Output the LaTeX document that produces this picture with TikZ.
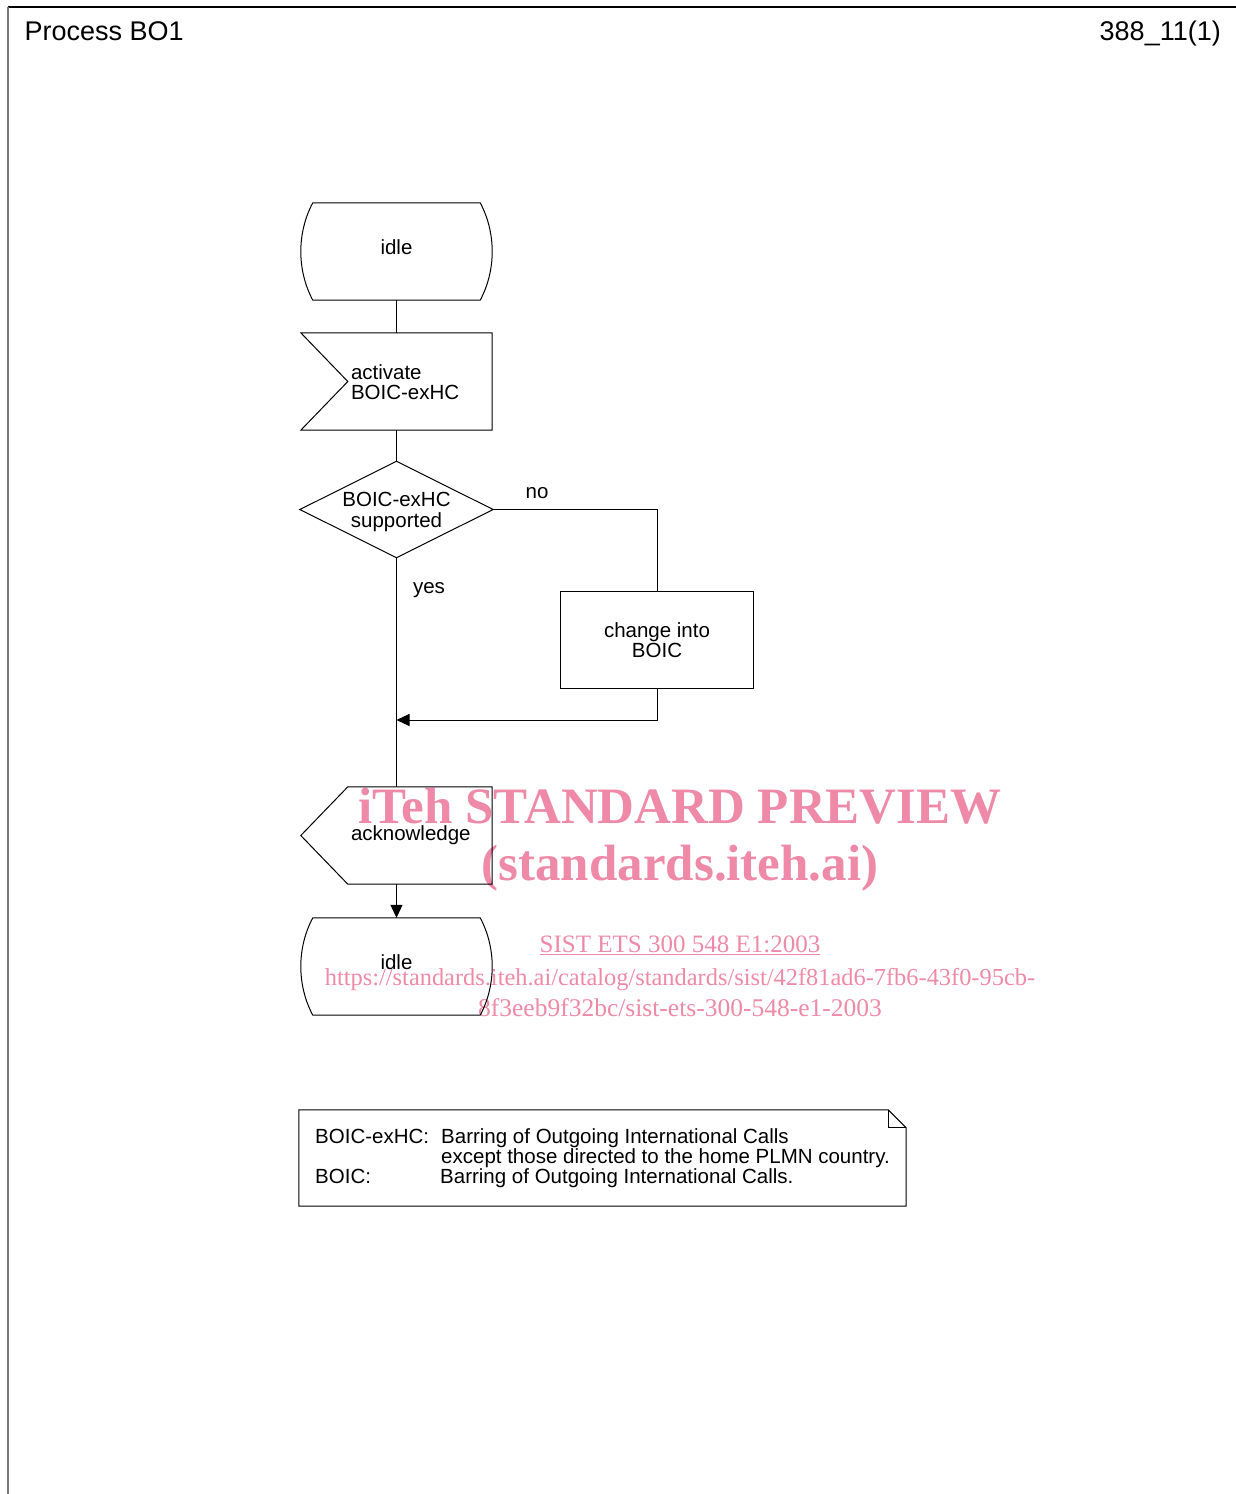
\documentclass[tikz,border=0pt]{standalone}
\usepackage{fontspec}
\setmainfont{Liberation Sans}
\newfontfamily\wmserif{Liberation Serif}
\usetikzlibrary{calc,arrows.meta}
\definecolor{wmpink}{RGB}{238,137,168}
\definecolor{framegray}{RGB}{120,120,120}
\newcommand\dfont{\fontsize{20.5}{20}\selectfont}
\newcommand\stateoutline[1]{%
  \draw[outl] ($(#1.north west)+(12,0)$) -- ($(#1.north east)+(-12,0)$)
    .. controls ($(#1.north east)+(4,30)$) and ($(#1.south east)+(4,-30)$) .. ($(#1.south east)+(-12,0)$)
    -- ($(#1.south west)+(12,0)$)
    .. controls ($(#1.south west)+(-4,-30)$) and ($(#1.north west)+(-4,30)$) .. cycle;}
\newcommand\inputoutline[1]{%
  \draw[outl] (#1.north west) -- (#1.north east) -- (#1.south east) -- (#1.south west) -- ($(#1.west)+(47,0)$) -- cycle;}
\newcommand\outputoutline[1]{%
  \draw[outl] ($(#1.north west)+(47,0)$) -- (#1.north east) -- (#1.south east) -- ($(#1.south west)+(47,0)$) -- (#1.west) -- cycle;}
\newcommand\decoutline[1]{%
  \draw[outl] (#1.north) -- (#1.east) -- (#1.south) -- (#1.west) -- cycle;}
\newcommand\rectoutline[1]{%
  \draw[outl] (#1.north west) rectangle (#1.south east);}
\newcommand\noteoutline[1]{%
  \draw[outl] ($(#1.north east)+(-18,0)$) -- (#1.north west) -- (#1.south west) -- (#1.south east) -- ($(#1.north east)+(0,18)$) -- cycle;
  \draw[outl] ($(#1.north east)+(-18,0)$) |- ($(#1.north east)+(0,18)$);}
\begin{document}
\begin{tikzpicture}[x=1pt,y=-1pt,
  every node/.style={inner sep=0pt},
  shapebox/.style={draw=none, inner sep=0pt, font=\dfont, align=center},
  statebox/.style={shapebox, minimum width=191pt, minimum height=97pt, text height=14.6pt, text depth=8pt},
  outl/.style={line width=1pt, line join=miter},
  conn/.style={line width=1pt},
  arr/.style={conn, -{Triangle[length=13pt,width=12pt]}},
  lbl/.style={font=\dfont},
  wmbig/.style={text=wmpink, font=\wmserif\bfseries\fontsize{51}{55}\selectfont, anchor=base},
  wmsmall/.style={text=wmpink, font=\wmserif\fontsize{24.4}{28}\selectfont, anchor=base},
  hdr/.style={font=\fontsize{27}{30}\selectfont}]
\useasboundingbox (0,0) rectangle (1236,1494);
% frame
\draw[line width=1.2pt] (8,7) -- (1236,7);
\draw[framegray, line width=2pt] (8,7) -- (8,1494);
\node[hdr, anchor=base west] (title) at (24.5,40) {Process BO1};
\node[hdr, anchor=base east] (figno) at (1221,40) {388\_11(1)};
% watermark
\node[wmbig] (wm1) at (680,823) {iTeh STANDARD PREVIEW};
\node[wmbig] (wm2) at (680,880) {(standards.iteh.ai)};
\node[wmsmall, font=\wmserif\fontsize{25}{28}\selectfont] (wm3) at (680,952) {\underline{SIST ETS 300 548 E1:2003}};
\node[wmsmall] (wm4) at (680,985) {https://standards.iteh.ai/catalog/standards/sist/42f81ad6-7fb6-43f0-95cb-};
\node[wmsmall, font=\wmserif\fontsize{25.5}{28}\selectfont] (wm5) at (680,1016) {8f3eeb9f32bc/sist-ets-300-548-e1-2003};
% nodes
\node[statebox] (idle1) at (396.5,251.5) {idle};
\node[shapebox, minimum width=191pt, minimum height=97pt,
  label={[anchor=west, xshift=50pt, yshift=-1pt, align=left, font=\dfont, inner sep=0pt]west:{activate\\BOIC-exHC}}] (act) at (396.5,381.5) {};
\node[shapebox, minimum width=193pt, minimum height=96pt] (dec) at (396.5,509.5) {\rule{0pt}{19pt}BOIC-exHC\\[1.5pt]supported};
\node[shapebox, minimum width=192pt, minimum height=96pt] (chg) at (657,640) {change into\\BOIC};
\node[shapebox, minimum width=191pt, minimum height=97pt,
  label={[anchor=west, xshift=50pt, font=\dfont, inner sep=0pt]west:{acknowledge}}] (ack) at (396.5,835.5) {};
\node[statebox] (idle2) at (396.5,966.5) {idle};
\node[shapebox, minimum width=607pt, minimum height=96pt, align=left] (note) at (602.5,1158)
  {\makebox[126pt][l]{BOIC-exHC:}Barring of Outgoing International Calls\\
   \hspace*{126pt}except those directed to the home PLMN country.\\
   \makebox[125pt][l]{BOIC:}Barring of Outgoing International Calls.\hspace*{3pt}};
% outlines
\stateoutline{idle1}
\inputoutline{act}
\decoutline{dec}
\rectoutline{chg}
\outputoutline{ack}
\stateoutline{idle2}
\noteoutline{note}
% connectors
\coordinate (merge) at (396.5,720);
\draw[conn] (idle1.south) -- (act.north);
\draw[conn] (act.south) -- (dec.north);
\draw[conn] (dec.east) -| (chg.north);
\draw[arr] (chg.south) |- (merge);
\draw[conn] (dec.south) -- (ack.north);
\draw[arr] (ack.south) -- (idle2.north);
\node[lbl] (no) at (537,493) {no};
\node[lbl] (yes) at (429,590) {yes};
\end{tikzpicture}
\end{document}
